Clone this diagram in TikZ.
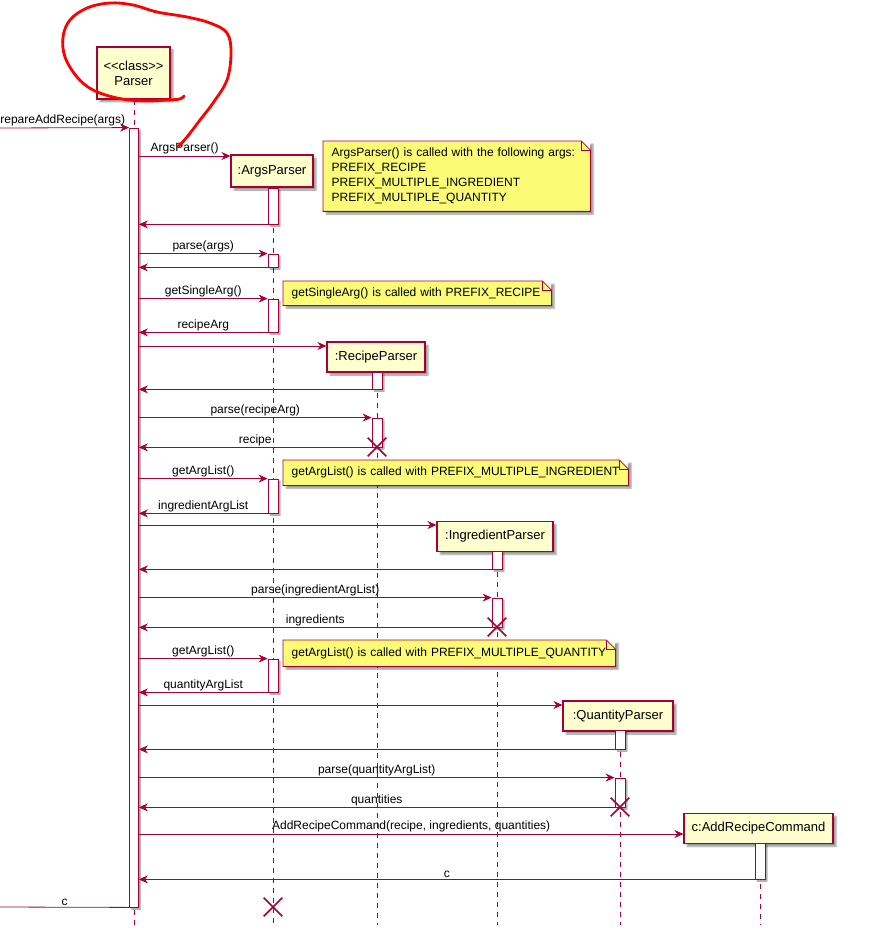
\documentclass[tikz,border=0pt]{standalone}
\usepackage{fontspec}
\setmainfont{Liberation Sans}
\usepackage{xcolor}
\usepackage{tikz}
\usetikzlibrary{arrows.meta, positioning, shapes.misc, shadows.blur}

\definecolor{umlred}{HTML}{A80036}
\definecolor{umlbox}{HTML}{FEFECE}
\definecolor{umlnote}{HTML}{FBFB77}

\begin{document}
\begin{tikzpicture}[x=1pt, y=-1pt,
            participant/.style={draw=umlred, fill=umlbox, rectangle, line width=1.1pt, minimum height=30pt, inner sep=0pt, align=center, font=\fontsize{13}{15}\selectfont, blur shadow={shadow xshift=3pt, shadow yshift=-3pt, shadow blur radius=1.5pt, shadow opacity=40}},
            act/.style={draw=umlred, fill=white, rectangle, line width=0.8pt, minimum width=10pt, inner sep=0pt, blur shadow={shadow xshift=2pt, shadow yshift=-2pt, shadow blur radius=1pt, shadow opacity=40}},
            lifeline/.style={draw=umlred, line width=0.8pt, dash pattern=on 5pt off 5pt},
            msg/.style={-{Stealth[length=9pt, width=8pt]}, draw=umlred, line width=0.8pt},
            lbl/.style={font=\fontsize{12}{14}\selectfont, inner sep=1.5pt, text=black},
            note/.style={anchor=north west, align=left, inner xsep=8.5pt, inner ysep=4pt, font=\fontsize{12}{15}\selectfont, fill=white,
                path picture={\fill[umlnote] (path picture bounding box.south west) -- (path picture bounding box.north west) -- ([xshift=-9pt]path picture bounding box.north east) -- ([yshift=-9pt]path picture bounding box.north east) -- (path picture bounding box.south east) -- cycle;},
                blur shadow={shadow xshift=3pt, shadow yshift=-3pt, shadow blur radius=1.5pt, shadow opacity=40}},
            noteline/.style={draw=umlred, line width=0.8pt},
            destroy/.style={cross out, draw=umlred, line width=1.6pt, minimum size=17pt, inner sep=0pt},
            scribble/.style={draw=red, line width=2.8pt, line cap=round, line join=round}
        ]
        \useasboundingbox (0,0) rectangle (875,949);

        % --- Participants ---
        \node[participant, minimum width=73pt, minimum height=52pt] (parser) at (133.5,73) {{<}{<}class{>}{>}\\Parser};
        \node[participant, minimum width=82pt, minimum height=32pt] (argsP) at (272,171) {:ArgsParser};
        \node[participant, minimum width=98pt] (recipeP) at (376,357) {:RecipeParser};
        \node[participant, minimum width=116pt] (ingrP) at (495,536.5) {:IngredientParser};
        \node[participant, minimum width=110pt] (qtyP) at (618,716) {:QuantityParser};
        \node[participant, minimum width=149pt] (cmdP) at (758.5,828.5) {c:AddRecipeCommand};

        % --- Lifelines ---
        \coordinate (parserEnd) at (134,925);
        \coordinate (argsEnd) at (273,925);
        \coordinate (recipeEnd) at (377,925);
        \coordinate (ingrEnd) at (497,925);
        \coordinate (qtyEnd) at (620,925);
        \coordinate (cmdEnd) at (760,925);
        \draw[lifeline] (parser.south -| parserEnd) -- (parserEnd);
        \draw[lifeline] (argsP.south -| argsEnd) -- (argsEnd);
        \draw[lifeline] (recipeP.south -| recipeEnd) -- (recipeEnd);
        \draw[lifeline] (ingrP.south -| ingrEnd) -- (ingrEnd);
        \draw[lifeline] (qtyP.south -| qtyEnd) -- (qtyEnd);
        \draw[lifeline] (cmdP.south -| cmdEnd) -- (cmdEnd);

        % --- Activations ---
        \node[act, minimum width=9pt, minimum height=779pt] (pAct) at (134,517.5) {};
        \node[act, minimum height=36pt] (a1) at (273,206) {};
        \node[act, minimum height=13pt] (a2) at (273,260.5) {};
        \node[act, minimum height=33pt] (a3) at (273,315.5) {};
        \node[act, minimum height=17pt] (r1) at (377,380.5) {};
        \node[act, minimum height=29pt] (r2) at (377,432.5) {};
        \node[act, minimum height=34pt] (a4) at (273,496) {};
        \node[act, minimum height=18pt] (i1) at (497,560) {};
        \node[act, minimum height=29pt] (i2) at (497,612.5) {};
        \node[act, minimum height=33pt] (a5) at (273,675.5) {};
        \node[act, minimum height=19pt] (q1) at (620,739.5) {};
        \node[act, minimum height=29pt] (q2) at (620,792.5) {};
        \node[act, minimum height=36pt] (c1) at (760,861) {};

        % --- Messages ---
        \coordinate (entryPt) at (0,128);
        \coordinate (exitPt) at (0,907);
        \draw[msg] (entryPt) -- node[lbl, above, pos=0.46] {prepareAddRecipe(args)} (pAct.north west);
        \draw[msg] (pAct.east |- 0,156) -- node[lbl, above] {ArgsParser()} (argsP.west |- 0,156);
        \draw[msg] (a1.south west) -- (pAct.east |- a1.south);
        \draw[msg] (pAct.east |- a2.north) -- node[lbl, above] {parse(args)} (a2.north west);
        \draw[msg] (a2.south west) -- (pAct.east |- a2.south);
        \draw[msg] (pAct.east |- a3.north) -- node[lbl, above] {getSingleArg()} (a3.north west);
        \draw[msg] (a3.south west) -- node[lbl, above] {recipeArg} (pAct.east |- a3.south);
        \draw[msg] (pAct.east |- 0,346) -- (recipeP.west |- 0,346);
        \draw[msg] (r1.south west) -- (pAct.east |- r1.south);
        \draw[msg] (pAct.east |- r2.north) -- node[lbl, above] {parse(recipeArg)} (r2.north west);
        \draw[msg] (r2.south west) -- node[lbl, above] {recipe} (pAct.east |- r2.south);
        \draw[msg] (pAct.east |- a4.north) -- node[lbl, above] {getArgList()} (a4.north west);
        \draw[msg] (a4.south west) -- node[lbl, above] {ingredientArgList} (pAct.east |- a4.south);
        \draw[msg] (pAct.east |- 0,525) -- (ingrP.west |- 0,525);
        \draw[msg] (i1.south west) -- (pAct.east |- i1.south);
        \draw[msg] (pAct.east |- i2.north) -- node[lbl, above] {parse(ingredientArgList)} (i2.north west);
        \draw[msg] (i2.south west) -- node[lbl, above] {ingredients} (pAct.east |- i2.south);
        \draw[msg] (pAct.east |- a5.north) -- node[lbl, above] {getArgList()} (a5.north west);
        \draw[msg] (a5.south west) -- node[lbl, above] {quantityArgList} (pAct.east |- a5.south);
        \draw[msg] (pAct.east |- 0,705) -- (qtyP.west |- 0,705);
        \draw[msg] (q1.south west) -- (pAct.east |- q1.south);
        \draw[msg] (pAct.east |- q2.north) -- node[lbl, above] {parse(quantityArgList)} (q2.north west);
        \draw[msg] (q2.south west) -- node[lbl, above] {quantities} (pAct.east |- q2.south);
        \draw[msg] (pAct.east |- 0,834) -- node[lbl, above] {AddRecipeCommand(recipe, ingredients, quantities)} (cmdP.west |- 0,834);
        \draw[msg] (c1.south west) -- node[lbl, above] {c} (pAct.east |- c1.south);
        \draw[draw=umlred, line width=0.8pt] (pAct.south west) -- node[lbl, above] {c} (exitPt);

        % --- Destructions ---
        \node[destroy] (recipeX) at (377,447) {};
        \node[destroy] (ingrX) at (497,627) {};
        \node[destroy] (qtyX) at (620,807) {};
        \node[destroy] (argsX) at (273,907) {};

        % --- Notes ---
        \node[note, text width=250pt, minimum height=70pt] (n1) at (323,141) {ArgsParser() is called with the following args:\\PREFIX\_RECIPE\\PREFIX\_MULTIPLE\_INGREDIENT\\PREFIX\_MULTIPLE\_QUANTITY};
        \node[note, text width=251pt, minimum height=24pt] (n2) at (283,281) {getSingleArg() is called with PREFIX\_RECIPE};
        \node[note, text width=328pt, minimum height=25pt] (n3) at (283,460) {getArgList() is called with PREFIX\_MULTIPLE\_INGREDIENT};
        \node[note, text width=315pt, minimum height=26pt] (n4) at (283,640) {getArgList() is called with PREFIX\_MULTIPLE\_QUANTITY};
        \foreach \n in {n1, n2, n3, n4} {
            \draw[noteline] (\n.south west) -- (\n.north west) -- ([xshift=-9pt]\n.north east) -- ([yshift=-9pt]\n.north east) -- (\n.south east) -- cycle;
            \draw[noteline] ([xshift=-9pt]\n.north east) |- ([yshift=-9pt]\n.north east);
        }

        % red pen annotation
        \draw[scribble] plot[smooth, tension=0.6] coordinates {(184,96) (180,99) (167,100) (143,101) (117,98) (93,90) (77,77) (65,57) (63,37) (70,20) (87,8) (110,3) (133,5) (157,12) (187,17) (210,23) (227,33) (231,53) (227,80) (213,103) (200,120) (187,137) (178,147)};

    \end{tikzpicture}
\end{document}
